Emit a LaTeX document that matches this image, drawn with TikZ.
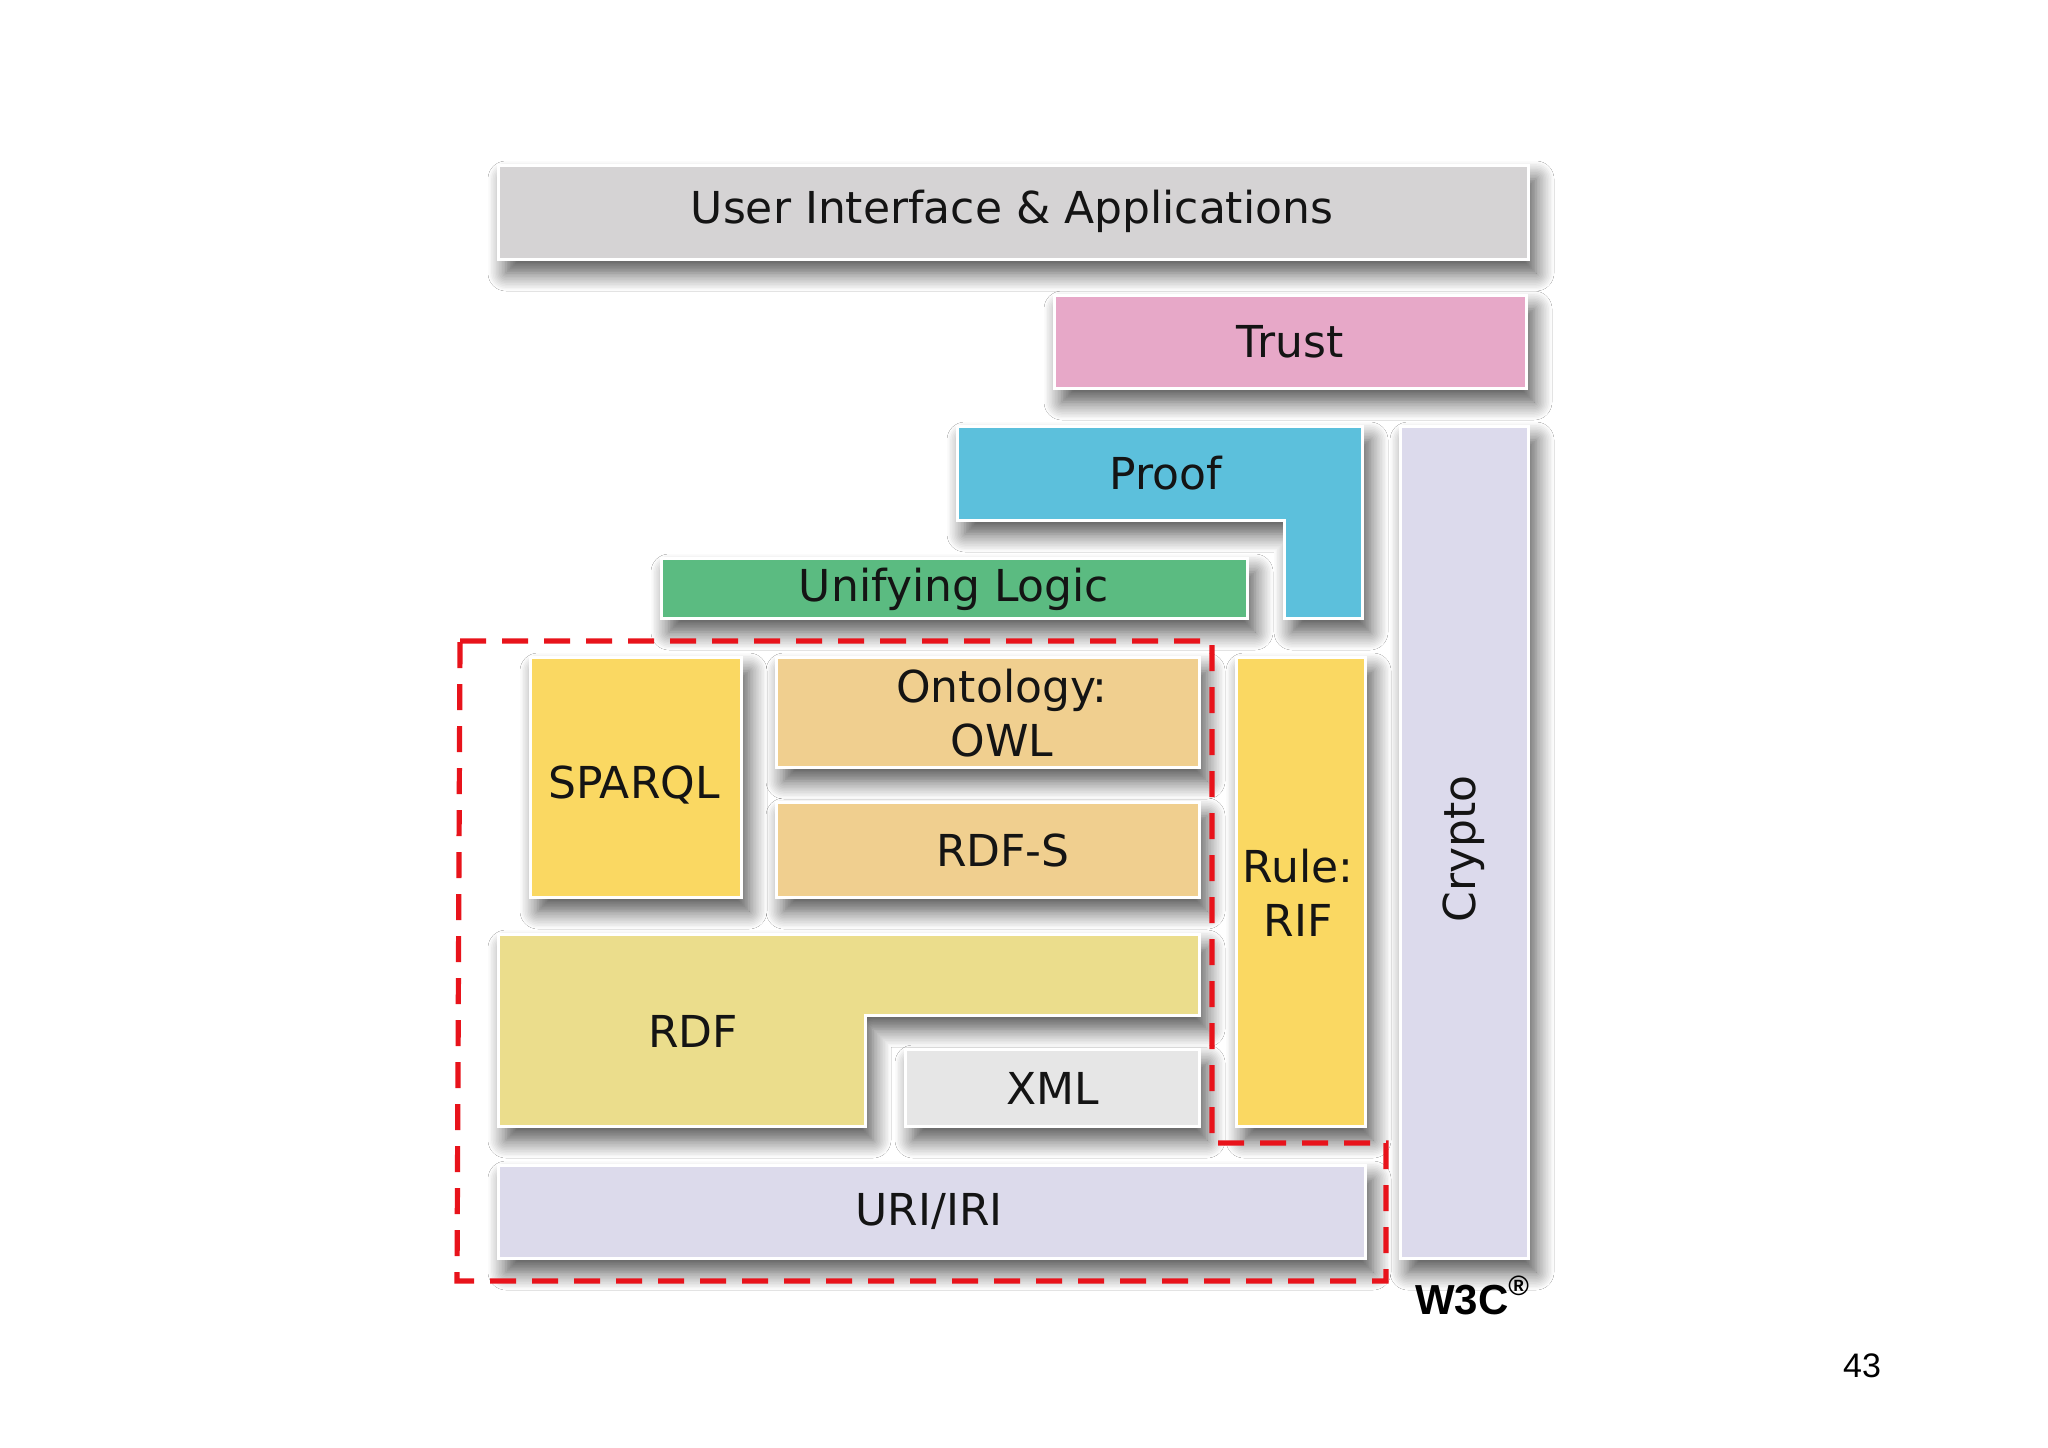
\documentclass[tikz,border=0pt]{standalone}
\usepackage{fontspec}
\setmainfont{DejaVu Sans}
\newfontfamily\arialf{Liberation Sans}
\usetikzlibrary{shadows.blur}
\definecolor{uigrey}{HTML}{D5D3D4}
\definecolor{trustpink}{HTML}{E7A8C8}
\definecolor{proofcyan}{HTML}{5CC0DC}
\definecolor{cryptolav}{HTML}{DCDAEC}
\definecolor{logicgreen}{HTML}{5BBB81}
\definecolor{sparqlyel}{HTML}{FAD862}
\definecolor{owltan}{HTML}{F0CF8F}
\definecolor{rdfyel}{HTML}{EBDD8C}
\definecolor{xmlgrey}{HTML}{E6E6E6}
\definecolor{urilav}{HTML}{DCDAEB}
\definecolor{dashred}{HTML}{E8131B}
\begin{document}
\begin{tikzpicture}[x=0.5pt,y=-0.5pt,
  layerbox/.style={draw=white, line width=1.5pt,
    blur shadow={shadow xshift=4pt, shadow yshift=-7pt, shadow blur radius=9pt, shadow blur steps=12, shadow opacity=70}},
  lbl/.style={font=\fontsize{22}{27}\selectfont, text=black!92, align=center, inner sep=0pt}]
\fill[white] (0,0) rectangle (2048,1447);
\useasboundingbox (0,0) rectangle (2048,1447);

% User Interface
\path[layerbox, fill=uigrey] (498,165) rectangle (1528,259);
\node[lbl] (ui) at (1012,211) {User Interface \& Applications};

% Trust
\path[layerbox, fill=trustpink] (1054,295) rectangle (1526,388);
\node[lbl] (trust) at (1290,342) {Trust};

% Crypto
\path[layerbox, fill=cryptolav] (1400,426) rectangle (1528,1258);
\node[lbl, rotate=90] (crypto) at (1464,849) {Crypto};

% Proof (L-shape)
\path[layerbox, fill=proofcyan] (957,426) -- (1362,426) -- (1362,618) -- (1284,618) -- (1284,520) -- (957,520) -- cycle;
\node[lbl] (proof) at (1166,473) {Proof};

% Unifying Logic
\path[layerbox, fill=logicgreen] (661,558) rectangle (1247,618);
\node[lbl] (logic) at (954,589) {Unifying Logic};

% SPARQL
\path[layerbox, fill=sparqlyel] (530,657) rectangle (741,897);
\node[lbl] (sparql) at (634,785) {SPARQL};

% Ontology OWL
\path[layerbox, fill=owltan] (776,657) rectangle (1199,767);
\node[lbl] (owl) at (1002,713) {Ontology:\\OWL};

% RDF-S
\path[layerbox, fill=owltan] (776,802) rectangle (1199,897);
\node[lbl] (rdfs) at (1003,850) {RDF-S};

% Rule RIF
\path[layerbox, fill=sparqlyel] (1236,657) rectangle (1365,1126);
\node[lbl] (rif) at (1298,893) {Rule:\\RIF};

% RDF (L-shape)
\path[layerbox, fill=rdfyel] (498,934) -- (1199,934) -- (1199,1015) -- (865,1015) -- (865,1126) -- (498,1126) -- cycle;
\node[lbl] (rdf) at (693,1031) {RDF};

% XML
\path[layerbox, fill=xmlgrey] (905,1049) rectangle (1199,1126);
\node[lbl] (xml) at (1053,1088) {XML};

% URI/IRI
\path[layerbox, fill=urilav] (498,1165) rectangle (1365,1258);
\node[lbl] (uri) at (929,1211) {URI/IRI};

% red dashed outline
\draw[dashred, line width=2.6pt, dash pattern=on 13pt off 8pt, line join=miter]
  (460,641) -- (1212,641) -- (1212,1143) -- (1386,1143) -- (1386,1281) -- (457,1281) -- cycle;

% W3C mark
\node[font=\arialf\bfseries\fontsize{21}{24}\selectfont, inner sep=0pt] (w3c) at (1472,1295) {W3C\raisebox{0.45em}{\fontsize{14}{15}\selectfont\textregistered}};

% page number
\node[font=\arialf\fontsize{17}{20}\selectfont, inner sep=0pt] (page) at (1862,1366) {43};
\end{tikzpicture}
\end{document}
